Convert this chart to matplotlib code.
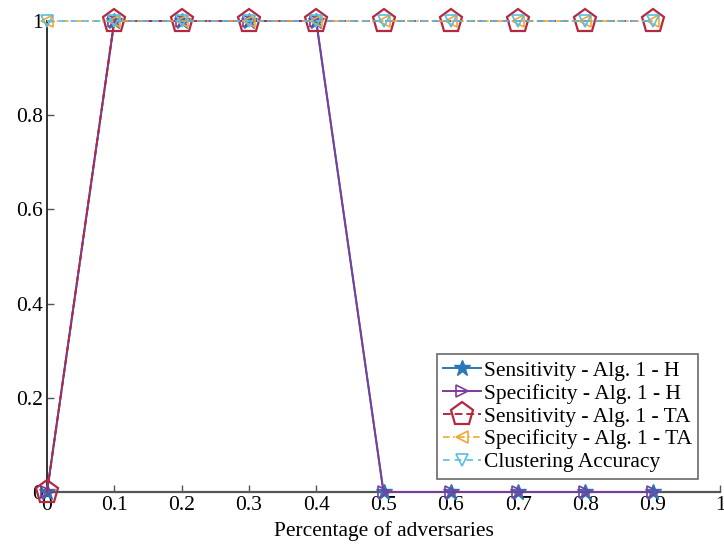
import matplotlib
matplotlib.use("Agg")
import matplotlib.pyplot as plt
from matplotlib.ticker import FixedLocator, FuncFormatter

x = [0, 0.1, 0.2, 0.3, 0.4, 0.5, 0.6, 0.7, 0.8, 0.9]
sens_h = [0, 1, 1, 1, 1, 0, 0, 0, 0, 0]
spec_h = [0, 1, 1, 1, 1, 0, 0, 0, 0, 0]
sens_ta = [0, 1, 1, 1, 1, 1, 1, 1, 1, 1]
spec_ta = [1, 1, 1, 1, 1, 1, 1, 1, 1, 1]
clust_acc = [1, 1, 1, 1, 1, 1, 1, 1, 1, 1]
labels = ["Sensitivity - Alg. 1 - H", "Specificity - Alg. 1 - H",
          "Sensitivity - Alg. 1 - TA", "Specificity - Alg. 1 - TA",
          "Clustering Accuracy"]
xticks = [0, 0.1, 0.2, 0.3, 0.4, 0.5, 0.6, 0.7, 0.8, 0.9, 1]
yticks = [0, 0.2, 0.4, 0.6, 0.8, 1]

plt.rcParams['font.family'] = ['Liberation Serif', 'DejaVu Serif']
plt.rcParams['mathtext.fontset'] = 'stix'

FS = 15.5

fig = plt.figure(figsize=(7.24, 5.44), dpi=100)
ax = fig.add_axes([47/724, 52/544, 673/724, 471/544])

ax.plot(x, sens_h, color='#2a78b8', lw=1.4, ls='-', marker='*', ms=12,
        mfc='#2a78b8', mec='#2a78b8', clip_on=False, zorder=3, label=labels[0])
ax.plot(x, spec_h, color='#7d3c9c', lw=1.4, ls='-', marker='>', ms=8,
        mfc='none', mec='#7d3c9c', mew=1.2, clip_on=False, zorder=3, label=labels[1])
ax.plot(x, sens_ta, color='#b5283f', lw=1.4, ls=(0, (4, 2)), marker='p', ms=17,
        mfc='none', mec='#b5283f', mew=1.6, clip_on=False, zorder=4, label=labels[2])
ax.plot(x, spec_ta, color='#f0a830', lw=1.2, ls=(0, (4, 2, 1, 2)), marker='<', ms=8,
        mfc='none', mec='#f0a830', mew=1.2, clip_on=False, zorder=4, label=labels[3])
ax.plot(x, clust_acc, color='#5bbde3', lw=1.2, ls=(0, (4, 3)), marker='v', ms=8,
        mfc='none', mec='#5bbde3', mew=1.2, clip_on=False, zorder=5, label=labels[4])

ax.set_xlim(0, 1)
ax.set_ylim(0, 1)
ax.spines['top'].set_visible(False)
ax.spines['right'].set_visible(False)
ax.spines['left'].set_color('#222222')
ax.spines['bottom'].set_color('#555555')
ax.spines['left'].set_linewidth(1.3)
ax.spines['bottom'].set_linewidth(1.6)

fmt = FuncFormatter(lambda v, p: ('%g' % round(v, 2)))
ax.xaxis.set_major_locator(FixedLocator(xticks))
ax.yaxis.set_major_locator(FixedLocator(yticks))
ax.xaxis.set_major_formatter(fmt)
ax.yaxis.set_major_formatter(fmt)
ax.tick_params(direction='in', length=5, width=1, colors='#555555',
               labelcolor='black', labelsize=FS, pad=3)

ax.set_xlabel("Percentage of adversaries", fontsize=FS, labelpad=4)

leg = ax.legend(loc='lower right', bbox_to_anchor=(0.968, 0.028), fontsize=FS,
                frameon=True, fancybox=False, edgecolor='#444444',
                handlelength=1.75, handletextpad=0.15, labelspacing=0.13,
                borderpad=0.3, borderaxespad=0.0)
leg.get_frame().set_linewidth(1.2)

fig.savefig("out.png", dpi=100)
